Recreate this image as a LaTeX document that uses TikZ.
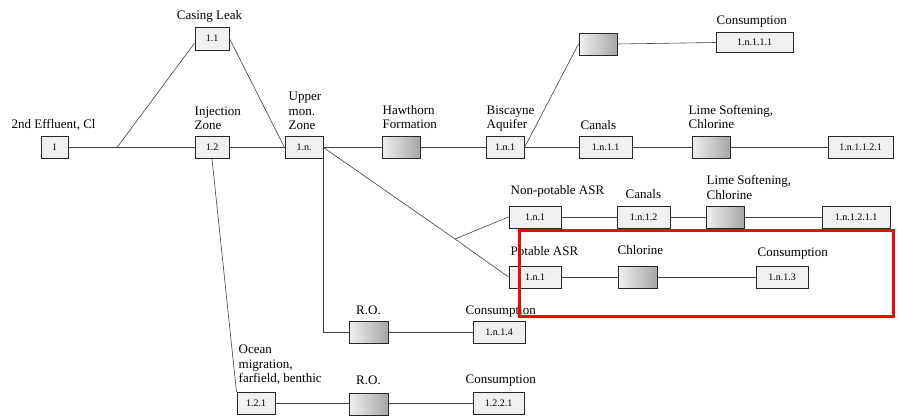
\documentclass[tikz,border=0pt]{standalone}
\usepackage{fontspec}
\setmainfont{Liberation Serif}
\usetikzlibrary{positioning}

\begin{document}
\begin{tikzpicture}[x=1pt,y=-1pt,
    numbox/.style={draw=black!85,line width=1pt,fill=gray!12,inner sep=0pt,
      minimum height=22pt,font=\fontsize{10}{12}\selectfont},
    gradbox/.style={draw=black!85,line width=1pt,left color=gray!12,right color=gray!70,
      inner sep=0pt,minimum height=22pt,minimum width=38pt},
    lbl/.style={inner sep=0pt,align=left,font=\fontsize{13}{14.5}\selectfont,
      execute at end node={\strut}},
    link/.style={draw=black!75,line width=0.6pt}]
        \useasboundingbox (0,0) rectangle (899,415);

        \node[numbox,minimum width=27pt] (n1) at (54.5,147.5) {1};
        \node[numbox,minimum width=34pt,minimum height=23pt] (n11) at (212,38.5) {1.1};
        \node[numbox,minimum width=34pt] (n12) at (212,147.5) {1.2};
        \node[numbox,minimum width=38pt] (n1n) at (304,147.5) {1.n.};
        \node[gradbox] (haw) at (401,147.5) {};
        \node[numbox,minimum width=38pt] (bis) at (505,147.5) {1.n.1};
        \node[gradbox] (topg) at (598,44) {};
        \node[numbox,minimum width=77pt,minimum height=20pt] (c1111) at (754.5,42.5) {1.n.1.1.1};
        \node[numbox,minimum width=53pt] (can1) at (605.5,147.5) {1.n.1.1};
        \node[gradbox] (lime1) at (711,147.5) {};
        \node[numbox,minimum width=65pt] (c11121) at (860.5,147.5) {1.n.1.1.2.1};

        \node[numbox,minimum width=52pt] (npot) at (535,217) {1.n.1};
        \node[numbox,minimum width=53pt] (can2) at (643.5,217) {1.n.1.2};
        \node[gradbox] (lime2) at (725,217) {};
        \node[numbox,minimum width=68pt] (c12111) at (856,217) {1.n.1.2.1.1};

        \node[numbox,minimum width=52pt] (pot) at (535,277) {1.n.1};
        \node[gradbox,minimum width=39pt] (chl) at (637.5,277) {};
        \node[numbox,minimum width=52pt] (c113) at (782,277) {1.n.1.3};

        \node[gradbox,minimum width=39pt] (ro1) at (368.5,332) {};
        \node[numbox,minimum width=52pt] (c114) at (499,332) {1.n.1.4};

        \node[numbox,minimum width=38pt] (n121) at (256,403.5) {1.2.1};
        \node[gradbox,minimum width=39pt] (ro2) at (368.5,404) {};
        \node[numbox,minimum width=51pt] (c1221) at (498.5,403.5) {1.2.2.1};

        \node[lbl,above right=2.6pt and -29pt of n1.north west] (l1) {2nd Effluent, Cl};
        \node[lbl,above=2.6pt of n11,xshift=-2.5pt] (l11) {Casing Leak};
        \node[lbl,above right=1.6pt and 0pt of n12.north west] (l12) {Injection\\Zone};
        \node[lbl,above right=1.6pt and 4pt of n1n.north west] (l1n) {Upper\\mon.\\Zone};
        \node[lbl,above right=2.6pt and 1pt of haw.north west] (lhaw) {Hawthorn\\Formation};
        \node[lbl,above right=2.6pt and 1pt of bis.north west] (lbis) {Biscayne\\Aquifer};
        \node[lbl,above right=1.6pt and 2pt of can1.north west] (lcan1) {Canals};
        \node[lbl,above right=2.6pt and 1pt of c1111.north west] (lc1111) {Consumption};
        \node[lbl,above right=2.6pt and -3pt of lime1.north west] (llime1) {Lime Softening,\\Chlorine};
        \node[lbl,above right=6.6pt and 2pt of npot.north west] (lnpot) {Non-potable ASR};
        \node[lbl,above right=2.6pt and 9pt of can2.north west] (lcan2) {Canals};
        \node[lbl,above right=1.6pt and 1pt of lime2.north west] (llime2) {Lime Softening,\\Chlorine};
        \node[lbl,above right=5.6pt and 2pt of pot.north west] (lpot) {Potable ASR};
        \node[lbl,above right=6.6pt and 0pt of chl.north west] (lchl) {Chlorine};
        \node[lbl,above right=4.6pt and 2pt of c113.north west] (lc113) {Consumption};
        \node[lbl,above=1.6pt of ro1] (lro1) {R.O.};
        \node[lbl,above right=1.6pt and -7pt of c114.north west] (lc114) {Consumption};
        \node[lbl,above right=4.6pt and 2pt of n121.north west] (l121) {Ocean\\migration,\\farfield, benthic};
        \node[lbl,above=3.6pt of ro2] (lro2) {R.O.};
        \node[lbl,above right=3.6pt and -7pt of c1221.north west] (lc1221) {Consumption};

        \coordinate (j1) at (117,147.5);
        \coordinate (j2) at (455,239);

        \draw[link] (n1) -- (n12);
        \draw[link] (j1) -- (n11.195);
        \draw[link] (n11.east) -- (n1n.west);
        \draw[link] (n12) -- (n1n);
        \draw[link] (n1n) -- (haw) -- (bis) -- (can1) -- (lime1) -- (c11121);
        \draw[link] (bis.east) -- (topg.west);
        \draw[link] (topg.east) -- (c1111.west);
        \draw[link] (n1n.east) -- (j2) -- (pot.west);
        \draw[link] (j2) -- (npot.west);
        \draw[link] (npot) -- (can2) -- (lime2) -- (c12111);
        \draw[link] (pot) -- (chl) -- (c113);
        \draw[link] (n1n.south east) |- (ro1.west);
        \draw[link] (ro1) -- (c114);
        \draw[link] (n12.south) -- (n121.north west);
        \draw[link] (n121) -- (ro2.west |- n121) (ro2.east |- c1221) -- (c1221);

        \draw[red,line width=3pt] (519,230) rectangle (893,316);
\end{tikzpicture}
\end{document}
